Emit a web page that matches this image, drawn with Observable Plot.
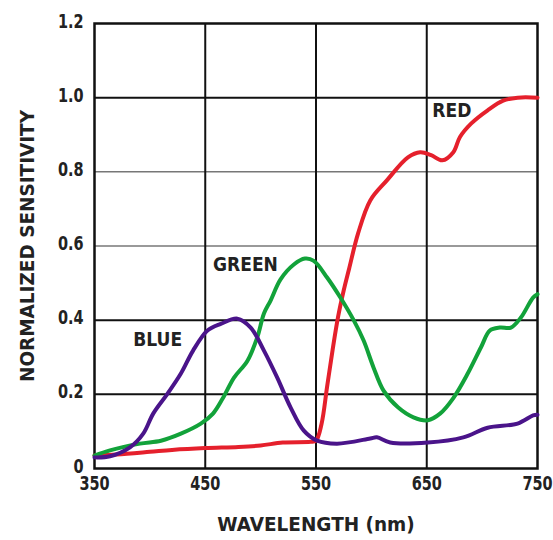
<!DOCTYPE html>
<html>
<head>
<meta charset="utf-8">
<script src="https://cdn.jsdelivr.net/npm/d3@7"></script>
<script src="https://cdn.jsdelivr.net/npm/@observablehq/plot@0.6"></script>
<style>
  html, body { margin: 0; padding: 0; background: #fff; }
  #chart { width: 553px; height: 540px; }
</style>
</head>
<body>
<div id="chart"></div>
<script>
const redWl   = [350, 370, 400, 420, 450, 480, 500, 520, 545, 550, 555, 560, 565, 570, 575, 580, 588, 599, 614, 633, 644, 654, 664, 674, 680, 690, 705, 719, 732, 750];
const redVal  = [0.035, 0.038, 0.045, 0.05, 0.055, 0.058, 0.062, 0.07, 0.072, 0.075, 0.12, 0.22, 0.32, 0.41, 0.48, 0.54, 0.634, 0.723, 0.777, 0.839, 0.853, 0.845, 0.831, 0.853, 0.894, 0.93, 0.966, 0.992, 1.0, 1.0];

const greenWl  = [350, 364, 391, 410, 428, 446, 457, 466, 476, 488, 497, 503, 509, 518, 530, 540, 548, 560, 572, 584, 593, 602, 611, 624, 638, 651, 662, 674, 687, 699, 707, 716, 726, 735, 746, 750];
const greenVal = [0.035, 0.049, 0.067, 0.075, 0.094, 0.121, 0.148, 0.19, 0.245, 0.29, 0.354, 0.418, 0.453, 0.51, 0.55, 0.566, 0.56, 0.515, 0.461, 0.40, 0.345, 0.272, 0.21, 0.165, 0.138, 0.13, 0.148, 0.19, 0.256, 0.327, 0.372, 0.38, 0.38, 0.407, 0.461, 0.47];

const blueWl   = [350, 364, 382, 394, 403, 416, 428, 439, 452, 464, 479, 491, 503, 515, 527, 539, 551, 569, 599, 605, 617, 651, 683, 705, 732, 746, 750];
const blueVal  = [0.03, 0.033, 0.057, 0.094, 0.148, 0.202, 0.256, 0.318, 0.372, 0.39, 0.404, 0.38, 0.318, 0.245, 0.165, 0.102, 0.075, 0.067, 0.081, 0.084, 0.07, 0.07, 0.084, 0.11, 0.121, 0.143, 0.145];

const seriesNames  = ["RED", "GREEN", "BLUE"];
const seriesColors = ["#e5202c", "#12a23a", "#4a148a"];
const labelWl  = [655, 457, 385];
const labelVal = [0.965, 0.55, 0.348];

const xTicks = [350, 450, 550, 650, 750];
const yTicks = [0, 0.2, 0.4, 0.6, 0.8, 1.0, 1.2];
const yTickLabels = ["0", "0.2", "0.4", "0.6", "0.8", "1.0", "1.2"];
const darkGridY = [0.2, 0.4, 1.0];
const lightGridY = [0.6, 0.8];
const gridX = [450, 550, 650];

const rows = [];
[[redWl, redVal], [greenWl, greenVal], [blueWl, blueVal]].forEach(([wl, v], i) => {
  wl.forEach((w, j) => rows.push({series: seriesNames[i], color: seriesColors[i], wl: w, v: v[j]}));
});
const labels = seriesNames.map((s, i) => ({series: s, wl: labelWl[i], v: labelVal[i]}));

const font = "'DejaVu Sans', sans-serif";

const chart = Plot.plot({
  width: 553,
  height: 540,
  marginLeft: 94,
  marginRight: 16,
  marginTop: 23,
  marginBottom: 72,
  style: {fontFamily: font, fontSize: "19px", fontWeight: "bold", background: "#fff", color: "#222"},
  x: {domain: [350, 750], ticks: xTicks},
  y: {domain: [0, 1.2], ticks: yTicks},
  marks: [
    Plot.ruleY(lightGridY, {stroke: "#777", strokeWidth: 1.5}),
    Plot.ruleY(darkGridY, {stroke: "#111", strokeWidth: 2}),
    Plot.ruleX(gridX, {stroke: "#111", strokeWidth: 2}),
    Plot.frame({stroke: "#111", strokeWidth: 2.5}),
    Plot.line(rows, {x: "wl", y: "v", z: "series", stroke: "color", strokeWidth: 4, curve: "catmull-rom"}),
    Plot.text(labels, {x: "wl", y: "v", text: "series", textAnchor: "start", fill: "#222", fontSize: 19, fontWeight: "bold"}),
    Plot.axisX({ticks: xTicks, tickSize: 0, tickPadding: 8, fontSize: 19, label: "WAVELENGTH (nm)", labelAnchor: "center", labelArrow: "none", labelOffset: 62}),
    Plot.axisY({ticks: yTicks, tickSize: 0, tickPadding: 11, dy: -2, tickFormat: (d, i) => yTickLabels[i], fontSize: 19, label: "NORMALIZED SENSITIVITY", labelAnchor: "center", labelArrow: "none", labelOffset: 74})
  ]
});
document.getElementById("chart").appendChild(chart);

// Emulate the condensed typeface of the original by narrowing glyphs.
const squeeze = (sel, k) => {
  chart.querySelectorAll(sel).forEach(t => {
    const w = t.getComputedTextLength();
    if (w > 0) {
      t.setAttribute("textLength", (w * k).toFixed(1));
      t.setAttribute("lengthAdjust", "spacingAndGlyphs");
    }
  });
};
squeeze('[aria-label="x-axis tick label"] text', 0.76);
squeeze('[aria-label="y-axis tick label"] text', 0.76);
squeeze('[aria-label="text"] text', 0.9);
squeeze('[aria-label="x-axis label"] text', 0.97);
squeeze('[aria-label="y-axis label"] text', 0.97);
</script>
</body>
</html>
